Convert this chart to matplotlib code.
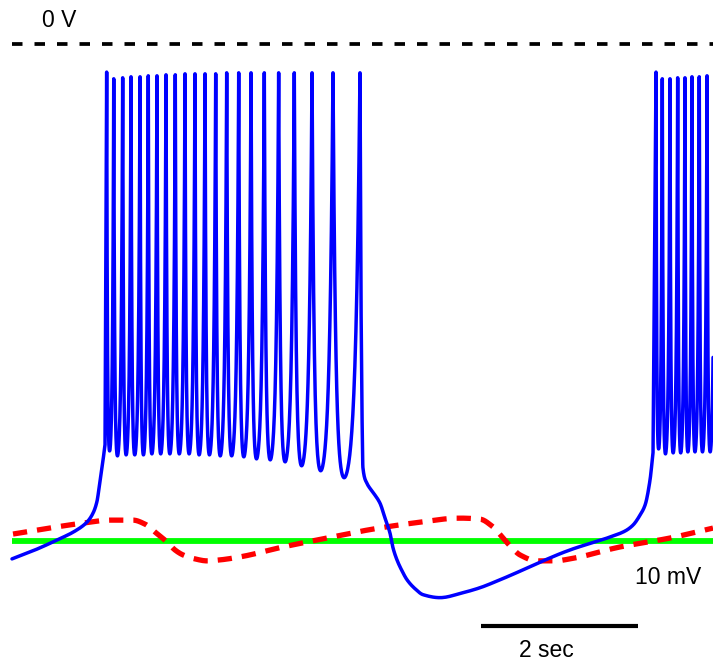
import numpy as np
import matplotlib
matplotlib.use("Agg")
import matplotlib.pyplot as plt

# ---------------- data (time in s, membrane potential in mV) ----------------
# burst 1 spike times, peak voltages, and inter-spike trough voltages
burst1_times = [1.206, 1.296, 1.410, 1.516, 1.631, 1.736, 1.847, 1.962, 2.080,
                2.204, 2.331, 2.459, 2.595, 2.735, 2.888, 3.045, 3.214, 3.397,
                3.596, 3.822, 4.089, 4.433]
burst1_peaks = [-2.9, -3.5, -3.4, -3.3, -3.3, -3.2, -3.2, -3.1, -3.1, -3.0,
                -3.0, -3.0, -3.0, -2.9, -2.9, -2.9, -2.9, -2.9, -2.9, -2.9,
                -2.9, -2.9]
burst1_troughs = [-41.0, -41.5, -41.4, -41.4, -41.4, -41.3, -41.3, -41.3, -41.3,
                  -41.3, -41.4, -41.4, -41.5, -41.5, -41.6, -41.8, -41.9, -42.1,
                  -42.5, -43.0, -43.7]

# burst 2 (partly out of view at the right edge)
burst2_times = [8.204, 8.284, 8.382, 8.480, 8.573, 8.662, 8.755, 8.854, 8.950]
burst2_peaks = [-2.9, -3.5, -3.5, -3.4, -3.4, -3.3, -3.3, -3.2, -3.2]
burst2_troughs = [-40.8, -41.3, -41.2, -41.2, -41.1, -41.1, -41.1, -41.1]

# slow-wave parts of the blue trace
pre_t = [0.000, 0.293, 0.573, 0.803, 0.955, 1.032, 1.083, 1.121, 1.159, 1.185]
pre_v = [-51.8, -50.9, -49.9, -49.0, -48.1, -47.2, -46.0, -43.9, -41.9, -40.3]

inter_t = [4.445, 4.460, 4.470, 4.522, 4.599, 4.688, 4.752, 4.815, 4.854, 4.904,
           4.968, 5.032, 5.134, 5.236, 5.452, 5.745, 5.962, 6.217, 7.108, 7.618,
           7.809, 7.911, 8.000, 8.064, 8.127, 8.166]
inter_v = [-25.0, -38.0, -42.6, -44.2, -45.1, -46.2, -47.7, -49.2, -50.7, -51.9,
           -53.0, -53.9, -54.8, -55.4, -55.7, -55.2, -54.7, -53.9, -50.9, -49.6,
           -49.0, -48.4, -47.4, -46.4, -43.9, -41.1]

# red dashed trace
red_t = [0.013, 0.904, 1.248, 1.541, 1.694, 1.822, 1.975, 2.076, 2.178, 2.331,
         2.484, 2.650, 2.904, 3.452, 4.013, 4.599, 5.108, 5.707, 5.962, 6.115,
         6.255, 6.369, 6.471, 6.688, 6.917, 7.108, 7.745, 8.382, 8.930]
red_v = [-49.3, -48.2, -47.9, -47.9, -48.3, -49.1, -50.1, -50.9, -51.4, -51.8,
         -52.0, -51.9, -51.6, -50.6, -49.7, -48.8, -48.2, -47.7, -47.8, -48.5,
         -49.7, -50.7, -51.4, -52.0, -52.0, -51.8, -50.6, -49.7, -48.7]

green_level = -50.0
zero_level = 0.0
scalebar_len = 2.0  # s


# ---------------- helpers ----------------
def pchip(x, y, n_per=12):
    """Shape-preserving cubic (Fritsch-Carlson) curve through the read points."""
    x = np.asarray(x, float)
    y = np.asarray(y, float)
    h = np.diff(x)
    d = np.diff(y) / h
    m = np.zeros_like(y)
    m[0], m[-1] = d[0], d[-1]
    for k in range(1, len(x) - 1):
        if d[k - 1] * d[k] > 0:
            w1 = 2 * h[k] + h[k - 1]
            w2 = h[k] + 2 * h[k - 1]
            m[k] = (w1 + w2) / (w1 / d[k - 1] + w2 / d[k])
    xs, ys = [], []
    for k in range(len(x) - 1):
        s = np.linspace(0, 1, n_per, endpoint=False)
        h00 = 2 * s**3 - 3 * s**2 + 1
        h10 = s**3 - 2 * s**2 + s
        h01 = -2 * s**3 + 3 * s**2
        h11 = s**3 - s**2
        xs.append(x[k] + s * h[k])
        ys.append(h00 * y[k] + h10 * h[k] * m[k] + h01 * y[k + 1] + h11 * h[k] * m[k + 1])
    xs.append([x[-1]])
    ys.append([y[-1]])
    return np.concatenate(xs), np.concatenate(ys)


def isi(t0, t1, v0, v1, vtr, n=80, a=0.10, b=0.16):
    u = np.linspace(0, 1, n)
    e1 = np.exp(-u / a)
    e2 = np.exp(-(1 - u) / b)
    v = vtr + (v0 - vtr) * e1 + (v1 - vtr) * e2
    c = v.min() - vtr
    v = v - c * (1 - e1) * (1 - e2)
    return t0 + u * (t1 - t0), v


def burst(times, peaks, troughs):
    T, V = [], []
    for i in range(len(troughs)):
        t, v = isi(times[i], times[i + 1], peaks[i], peaks[i + 1], troughs[i])
        if i > 0:
            t, v = t[1:], v[1:]
        T.append(t)
        V.append(v)
    return np.concatenate(T), np.concatenate(V)


b1t, b1v = burst(burst1_times, burst1_peaks, burst1_troughs)
b2t, b2v = burst(burst2_times, burst2_peaks, burst2_troughs)
pt, pv = pchip(pre_t, pre_v)
it, iv = pchip(inter_t, inter_v)
rt, rv = pchip(red_t, red_v)

blue_t = np.concatenate([pt, b1t, it, b2t])
blue_v = np.concatenate([pv, b1v, iv, b2v])

# ---------------- plot ----------------
W, H = 713, 660
fig = plt.figure(figsize=(W / 100, H / 100), dpi=100)
ax = fig.add_axes([0, 0, 1, 1])
px_per_s = 78.5
px_per_mV = 9.94
x_left = -12 / px_per_s
x_right = (W - 12) / px_per_s
y_top = 44 / px_per_mV
y_bot = -(H - 44) / px_per_mV
ax.set_xlim(x_left, x_right)
ax.set_ylim(y_bot, y_top)
ax.axis("off")

ax.plot([0, x_right], [zero_level, zero_level], color="black", lw=2.7,
        dashes=(2.8, 3.2), solid_capstyle="butt")
ax.plot([0, x_right], [green_level, green_level], color="#00ff00", lw=4.2,
        solid_capstyle="butt", zorder=2)
ax.plot(rt, rv, color="#ff0000", lw=3.8, dashes=(2.7, 1.9), zorder=3)
ax.plot(blue_t, blue_v, color="#0000ff", lw=2.5, solid_joinstyle="round",
        solid_capstyle="round", zorder=4)

font = dict(family=["Liberation Sans", "DejaVu Sans"], fontsize=16.5)
ax.text((59 - 12) / px_per_s, -(20 - 44) / px_per_mV, "0 V", ha="center",
        va="center", **font)
ax.text((668 - 12) / px_per_s, -(577 - 44) / px_per_mV, "10 mV", ha="center",
        va="center", **font)

sb_x0 = (481 - 12) / px_per_s
sb_y = -(626 - 44) / px_per_mV
ax.plot([sb_x0, sb_x0 + scalebar_len], [sb_y, sb_y], color="black", lw=3.0,
        solid_capstyle="butt")
ax.text((546 - 12) / px_per_s, -(650 - 44) / px_per_mV, "2 sec",
        ha="center", va="center", **font)

fig.savefig("out.png", dpi=100)
